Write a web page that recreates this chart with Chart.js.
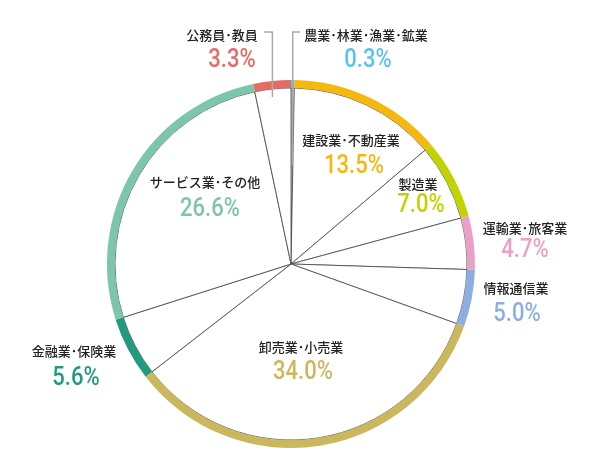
<!DOCTYPE html>
<html>
<head>
<meta charset="utf-8">
<script src="https://cdn.jsdelivr.net/npm/chart.js@4"></script>
<style>
  html, body { margin: 0; padding: 0; background: #fff; }
  #wrap { width: 606px; height: 462px; position: relative; }
</style>
</head>
<body>
<div id="wrap"><canvas id="myChart"></canvas></div>
<script>
const categories = ['農業･林業･漁業･鉱業', '建設業･不動産業', '製造業', '運輸業･旅客業', '情報通信業',
  '卸売業･小売業', '金融業･保険業', 'サービス業･その他', '公務員･教員'];
const shares = [0.3, 13.5, 7.0, 4.7, 5.0, 34.0, 5.6, 26.6, 3.3];
const ringColors = ['#5bc2ee', '#f4b80f', '#c3d300', '#eba0c6', '#8caee0', '#cbb85e', '#229a80', '#7cc6ae', '#e56b66'];

// label anchors (label text, percent text) in page pixels
const labelAt = [[366, 35], [351, 140], [418, 184], [525, 228], [516, 288], [301, 347], [74, 351], [205, 182], [222, 35]];
const pctAt = [[368, 61], [354, 167], [421, 206], [525, 251], [517, 315], [303, 373], [76, 379], [210, 210], [232, 61]];

const labelPlugin = {
  id: 'pieLabels',
  afterDraw(chart) {
    const ctx = chart.ctx;
    const ring = chart.getDatasetMeta(0).data;
    ctx.save();

    // leader lines for the two thin slices at the top
    ctx.strokeStyle = '#aaa';
    ctx.lineWidth = 1.5;
    const leader = (i, fromX, downTo) => {
      const a = ring[i];
      const mid = (a.startAngle + a.endAngle) / 2;
      const x = a.x + (a.outerRadius - 4) * Math.cos(mid);
      ctx.beginPath();
      ctx.moveTo(fromX, 32);
      ctx.lineTo(x, 32);
      ctx.lineTo(x, downTo);
      ctx.stroke();
    };
    leader(8, 264, 97);
    leader(0, 300, 165);

    ctx.textAlign = 'center';
    ctx.textBaseline = 'middle';
    const sx = 0.88;
    categories.forEach((name, i) => {
      ctx.fillStyle = '#222';
      ctx.font = '500 13px "Noto Sans CJK JP"';
      ctx.fillText(name, labelAt[i][0], labelAt[i][1]);
      ctx.save();
      ctx.scale(sx, 1);
      ctx.fillStyle = ringColors[i];
      ctx.font = '500 25px Roboto';
      ctx.fillText(shares[i].toFixed(1) + '%', pctAt[i][0] / sx, pctAt[i][1]);
      ctx.restore();
    });
    ctx.restore();
  }
};

const ctx = document.getElementById('myChart').getContext('2d');
const myChart = new Chart(ctx, {
  type: 'doughnut',
  data: {
    labels: categories,
    datasets: [{
      data: shares,
      backgroundColor: ringColors,
      borderWidth: 0,
      weight: 8
    }, {
      data: shares,
      backgroundColor: '#fff',
      borderColor: '#444',
      borderWidth: 0.8,
      weight: 176
    }]
  },
  options: {
    responsive: true,
    maintainAspectRatio: false,
    animation: false,
    cutout: 0,
    layout: { padding: { top: 80, bottom: 14, left: 107, right: 131 } },
    plugins: {
      legend: { display: false },
      tooltip: { enabled: false }
    }
  },
  plugins: [labelPlugin]
});
</script>
</body>
</html>
